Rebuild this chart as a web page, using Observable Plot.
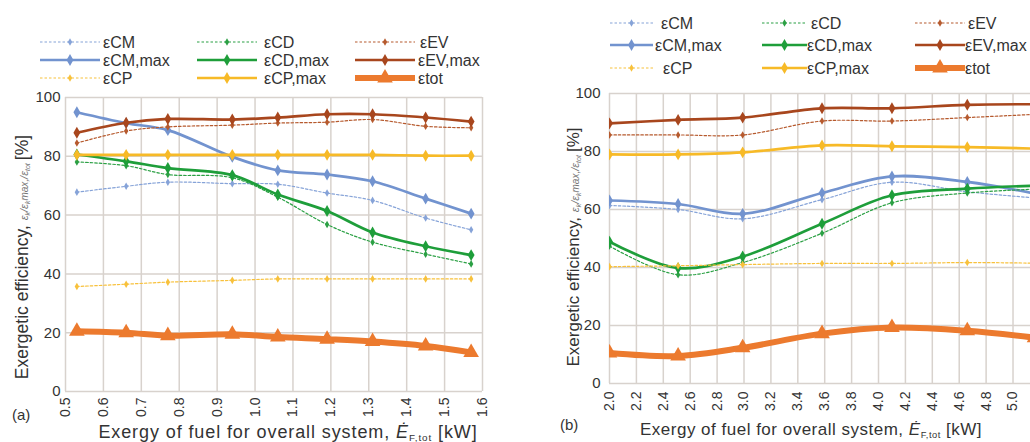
<!DOCTYPE html>
<html><head><meta charset="utf-8">
<script src="https://cdn.jsdelivr.net/npm/d3@7"></script>
<script src="https://cdn.jsdelivr.net/npm/@observablehq/plot@0.6"></script>
<style>
html,body{margin:0;padding:0;background:#fff;overflow:hidden;width:1030px;height:442px;}
#root{position:relative;width:1030px;height:442px;font-family:"Liberation Sans",Arial,sans-serif;color:#333;}
#root > svg{position:absolute;top:0;}
</style></head><body><div id="root"></div>
<script>
// ---------- data ----------
const seriesOrder = ["εCM","εCM,max","εCD","εCD,max","εEV","εEV,max","εCP","εCP,max","εtot"];
const yTicks = [0,20,40,60,80,100];

// panel (a)
const xTicksA = [0.5,0.6,0.7,0.8,0.9,1.0,1.1,1.2,1.3,1.4,1.5,1.6];
const xA      = [0.53,0.66,0.77,0.94,1.06,1.19,1.31,1.45,1.57];
const cmA     = [67.8,69.8,71.2,70.7,70.5,67.5,65.0,59.0,55.0];
const cmMaxA  = [95.0,91.3,88.9,79.8,75.2,73.8,71.5,65.6,60.5];
const cdA     = [78.1,76.8,73.8,72.7,66.1,56.8,50.8,46.7,43.4];
const cdMaxA  = [80.6,78.3,76.0,73.6,67.0,61.4,54.1,49.4,46.4];
const evA     = [84.5,88.6,90.0,90.6,91.3,91.6,92.5,90.2,89.7];
const evMaxA  = [88.0,91.4,92.7,92.5,93.2,94.3,94.3,93.2,91.8];
const cpA     = [35.7,36.5,37.2,37.8,38.3,38.3,38.3,38.3,38.3];
const cpMaxA  = [80.5,80.5,80.5,80.5,80.5,80.5,80.5,80.2,80.2];
const totA    = [20.5,20.0,19.0,19.5,18.5,17.8,17.0,15.5,13.3];

// panel (b)
const xTicksB = [2.0,2.2,2.4,2.6,2.8,3.0,3.2,3.4,3.6,3.8,4.0,4.2,4.4,4.6,4.8,5.0,5.2];
const xB      = [2.0,2.51,2.99,3.58,4.10,4.66,5.16];
const cmB     = [61.4,60.0,56.8,63.4,69.4,66.1,64.0];
const cmMaxB  = [63.1,61.9,58.5,65.7,71.4,69.5,65.5];
const cdB     = [47.4,37.5,41.7,51.8,62.3,65.7,67.0];
const cdMaxB  = [48.9,39.8,43.8,55.1,64.9,67.2,68.2];
const evB     = [85.7,85.7,85.7,90.5,90.5,91.7,92.8];
const evMaxB  = [89.7,90.9,91.7,94.9,94.9,96.1,96.3];
const cpB     = [40.3,40.6,41.0,41.4,41.4,41.7,41.5];
const cpMaxB  = [79.0,79.0,79.7,82.1,81.8,81.5,81.0];
const totB    = [10.5,9.5,12.3,17.2,19.3,18.2,15.8];

// ---------- styles ----------
const styles = {
  "εCM":     {c:"#86a3d8", kind:"dash"},
  "εCM,max": {c:"#7293cf", kind:"solid"},
  "εCD":     {c:"#2ba044", kind:"dash"},
  "εCD,max": {c:"#1e9e3a", kind:"solid"},
  "εEV":     {c:"#b65a2e", kind:"dash"},
  "εEV,max": {c:"#a8461d", kind:"solid"},
  "εCP":     {c:"#f8c13c", kind:"dash"},
  "εCP,max": {c:"#f7ba27", kind:"solid"},
  "εtot":    {c:"#ec7a2e", kind:"tot"}
};
const kindStyle = {
  dash:  {w:1.2, dash:"2.5,2", sym:"diamond", r:2.3},
  solid: {w:2.7, dash:null,  sym:"diamond", r:3.6},
  tot:   {w:6.0, dash:null,  sym:"triangle", r:5.8}
};
const gridColor = "#d8d2cd";
const FONT = "Liberation Sans, Arial, sans-serif";

function panel(cfg) {
  const rows = [];
  for (const k of seriesOrder) cfg.values[k].forEach((v,i)=>rows.push({x:cfg.x[i], y:v, k}));
  const marks = [
    Plot.gridY(yTicks, {stroke:gridColor, strokeOpacity:1, strokeWidth:1.5}),
    Plot.gridX(cfg.ticks, {stroke:gridColor, strokeOpacity:1, strokeWidth:1.5}),
    Plot.axisY(yTicks, {tickSize:0, tickPadding:cfg.ypad, fontSize:15, label:null}),
    Plot.axisX(cfg.ticks.filter(t=>t<=cfg.domain[1]+1e-9), {tickSize:0, tickPadding:cfg.xpad, tickRotate:-90, fontSize:14, tickFormat:d3.format(".1f"), label:null})
  ];
  for (const k of seriesOrder) {
    const s = styles[k], ks = kindStyle[s.kind];
    const d = rows.filter(r=>r.k===k);
    marks.push(Plot.line(d, {x:"x", y:"y", stroke:s.c, strokeWidth:ks.w, strokeDasharray:ks.dash, curve:"catmull-rom", clip:true}));
    marks.push(Plot.dot(d, {x:"x", y:"y", symbol:ks.sym, r:ks.r, fill:s.c, stroke:"none", clip:true}));
  }
  const svg = Plot.plot({
    width: cfg.width, height: 442,
    marginLeft: cfg.ml, marginRight: cfg.mr, marginTop: cfg.mt, marginBottom: cfg.mb,
    x: {domain: cfg.domain},
    y: {domain: [0,100]},
    style: {fontFamily: FONT, color:"#333", background:"transparent", overflow:"visible"},
    marks
  });
  svg.style.left = cfg.left + "px";
  return svg;
}

const root = document.getElementById("root");
root.appendChild(panel({
  left:0, width:515, ml:65, mr:33, mt:97, mb:51, domain:[0.5,1.6], ticks:xTicksA, x:xA, ypad:5, xpad:6,
  values: {"εCM":cmA,"εCM,max":cmMaxA,"εCD":cdA,"εCD,max":cdMaxA,"εEV":evA,"εEV,max":evMaxA,"εCP":cpA,"εCP,max":cpMaxA,"εtot":totA}
}));
root.appendChild(panel({
  left:520, width:510, ml:89, mr:0, mt:93, mb:59, domain:[2.0,5.13], ticks:xTicksB, x:xB, ypad:9, xpad:8,
  values: {"εCM":cmB,"εCM,max":cmMaxB,"εCD":cdB,"εCD,max":cdMaxB,"εEV":evB,"εEV,max":evMaxB,"εCP":cpB,"εCP,max":cpMaxB,"εtot":totB}
}));

// ---------- overlay: legends & axis titles ----------
const ov = d3.select(root).append("svg").attr("width",1030).attr("height",442)
  .style("left","0px").attr("font-family",FONT);

const legendGrid = [["εCM","εCD","εEV"],["εCM,max","εCD,max","εEV,max"],["εCP","εCP,max","εtot"]];
function legend(rowsY, cols) {
  legendGrid.forEach((row, ri) => row.forEach((k, ci) => {
    const s = styles[k], ks = kindStyle[s.kind], col = cols[ci], y = rowsY[ri];
    ov.append("line").attr("x1",col.x0).attr("x2",col.x1).attr("y1",y).attr("y2",y)
      .attr("stroke",s.c).attr("stroke-width",ks.w).attr("stroke-dasharray",ks.dash);
    const sym = d3.symbol(ks.sym==="triangle"?d3.symbolTriangle:d3.symbolDiamond, Math.PI*ks.r*ks.r)();
    ov.append("path").attr("d",sym).attr("transform",`translate(${(col.x0+col.x1)/2},${y})`).attr("fill",s.c);
    ov.append("text").attr("x", col.tx[ri]).attr("y", y).attr("dy","0.35em")
      .attr("font-size",16).attr("fill","#333").text(k);
  }));
}
legend([42,60,78], [
  {x0:40,x1:100,tx:[103,103,103]},
  {x0:197,x1:257,tx:[264,264,264]},
  {x0:355,x1:415,tx:[420,418,418]}
]);
legend([23,45,68], [
  {x0:610,x1:653,tx:[661,655,663]},
  {x0:762,x1:807,tx:[811,807,807]},
  {x0:915,x1:965,tx:[968,965,965]}
]);

function ylabel(cx, cy, size) {
  const t = ov.append("text").attr("transform",`translate(${cx},${cy}) rotate(-90)`)
    .attr("text-anchor","middle").attr("dy","0.35em").attr("fill","#333").attr("font-size",size);
  t.append("tspan").text("Exergetic efficiency, ");
  const parts = [["ε",0,11],["k",2,7],["/ε",-2,11],["k",2,7],["max,",-2,10],["/ε",0,11],["tot",2,7],[" ",-2,11]];
  for (const [s,dy,fs] of parts) t.append("tspan").attr("dy",dy).attr("font-size",fs)
    .attr("font-style","italic").attr("fill","#777").text(s);
  t.append("tspan").attr("font-size",size).attr("fill","#333").text("[%]");
}
ylabel(22, 257, 17.5);
ylabel(573, 247, 17);

function xlabel(cx, y, size, ls) {
  const t = ov.append("text").attr("x",cx).attr("y",y).attr("text-anchor","middle")
    .attr("fill","#333").attr("font-size",size).attr("letter-spacing",ls);
  t.append("tspan").text("Exergy of fuel for overall system, ");
  t.append("tspan").attr("font-style","italic").text("Ė");
  t.append("tspan").attr("font-size",size*0.55).attr("dy",3).text("F,tot");
  t.append("tspan").attr("dy",-3).text(" [kW]");
}
xlabel(288, 438, 18, 0.9);
xlabel(811, 435, 17, 0.5);

ov.append("text").attr("x",12).attr("y",420).attr("font-size",15).attr("fill","#333").text("(a)");
ov.append("text").attr("x",560).attr("y",430).attr("font-size",15).attr("fill","#333").text("(b)");
</script></body></html>
